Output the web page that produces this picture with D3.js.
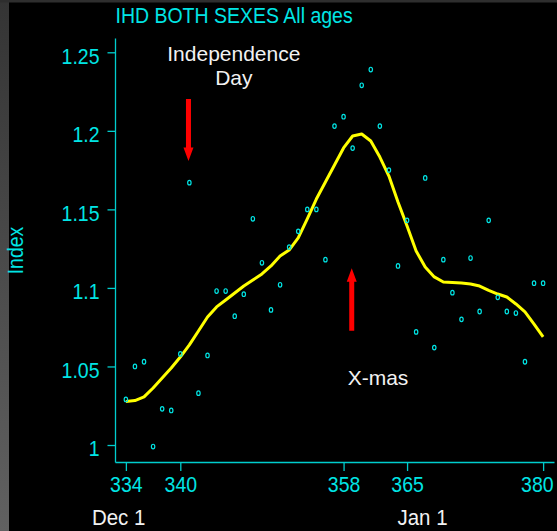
<!DOCTYPE html>
<html>
<head>
<meta charset="utf-8">
<script src="https://cdn.jsdelivr.net/npm/d3@7/dist/d3.min.js"></script>
<style>
  html, body { margin: 0; padding: 0; background: #000; overflow: hidden; }
  svg { display: block; }
</style>
</head>
<body>
<svg id="chart" width="557" height="531"></svg>
<script>
// Day of year (Dec 1 = 335, Jan 1 = 366 continued past 365)
const days = [334, 335, 336, 337, 338, 339, 340, 341, 342, 343, 344, 345, 346, 347, 348, 349,
              350, 351, 352, 353, 354, 355, 356, 357, 358, 359, 360, 361, 362, 363, 364, 365,
              366, 367, 368, 369, 370, 371, 372, 373, 374, 375, 376, 377, 378, 379, 380];

// Daily IHD mortality index, both sexes, all ages
const observed = [1.029, 1.050, 1.053, 0.999, 1.023, 1.022, 1.058, 1.167, 1.033, 1.057, 1.098, 1.098,
                  1.082, 1.096, 1.144, 1.116, 1.086, 1.102, 1.126, 1.136, 1.150, 1.150, 1.118, 1.203,
                  1.209, 1.189, 1.229, 1.239, 1.203, 1.175, 1.114, 1.143, 1.072, 1.170, 1.062, 1.118,
                  1.097, 1.080, 1.119, 1.085, 1.143, 1.094, 1.085, 1.084, 1.053, 1.103, 1.103];

// Smoothed trend through the daily index
const smoothed = [1.0277, 1.0283, 1.0306, 1.0363, 1.0427, 1.0490, 1.0560, 1.0637, 1.0726, 1.0815,
                  1.0879, 1.0923, 1.0968, 1.1012, 1.1050, 1.1089, 1.1140, 1.1203, 1.1241, 1.1318,
                  1.1439, 1.1566, 1.1674, 1.1783, 1.1891, 1.1967, 1.1980, 1.1935, 1.1833, 1.1712,
                  1.1547, 1.1394, 1.1235, 1.1133, 1.1070, 1.1038, 1.1035, 1.1031, 1.1025, 1.1012,
                  1.0984, 1.0961, 1.0942, 1.0898, 1.0847, 1.0770, 1.0688];

const xTicks = [334, 340, 358, 365, 380];
const yTicks = [1, 1.05, 1.1, 1.15, 1.2, 1.25];
const yTickLabels = ["1", "1.05", "1.1", "1.15", "1.2", "1.25"];

const dateLabels = ["Dec 1", "Jan 1"];
const dateLabelDays = [333.2, 366.7];

// Holiday annotations: arrow (day, from, to) and caption lines
const arrowDays = [340.9, 358.9];
const arrowFrom = [1.2203, 1.0728];
const arrowTo = [1.1808, 1.1125];
const captionLines = [["Independence", "Day"], ["X-mas"]];
const captionDays = [345.9, 361.8];
const captionTop = [1.2445, 1.0385];

const titleText = "IHD BOTH SEXES All ages";
const yTitle = "Index";

const W = 557, H = 531;
const CYAN = "#00E5E5", AXIS = "#00CDCD", WHITE = "#F2F2F2";
const FONT = "'Liberation Sans', Arial, Helvetica, sans-serif";
const STRETCH = 1.12;

const svg = d3.select("#chart");

// Window frame edge on the left
const defs = svg.append("defs");
const grad = defs.append("linearGradient").attr("id", "edge").attr("x1", 0).attr("y1", 0).attr("x2", 0).attr("y2", 1);
grad.append("stop").attr("offset", 0).attr("stop-color", "#343434");
grad.append("stop").attr("offset", 1).attr("stop-color", "#616161");
svg.append("rect").attr("x", 0).attr("y", 0).attr("width", W).attr("height", H).attr("fill", "#000");
svg.append("rect").attr("x", 0).attr("y", 0).attr("width", 9).attr("height", H).attr("fill", "url(#edge)");
svg.append("rect").attr("x", 0).attr("y", 0).attr("width", W).attr("height", 2.5).attr("fill", "#2e2e2e");

const x = d3.scaleLinear().domain([332.8, 381.2]).range([115, 554]);
const y = d3.scaleLinear().domain([0.98918, 1.2591]).range([462, 38]);

// Place a text node at (px, py) with glyphs stretched vertically about the baseline
function placeText(sel, px, py, sy, rot) {
  sel.attr("x", 0).attr("y", 0).attr("dy", null)
     .attr("transform", `translate(${px},${py})${rot ? ` rotate(${rot})` : ""} scale(1,${sy})`);
}

// Y axis
const yAxis = svg.append("g")
  .attr("transform", `translate(${x.range()[0]},0)`)
  .call(d3.axisLeft(y).tickValues(yTicks).tickSize(7.5).tickSizeOuter(0)
        .tickFormat((d, i) => yTickLabels[i]));
yAxis.select(".domain").attr("stroke", AXIS).attr("stroke-width", 1.3);
yAxis.selectAll(".tick line").attr("stroke", AXIS).attr("stroke-width", 1.3);
yAxis.selectAll(".tick text").each(function () {
  const t = d3.select(this);
  t.attr("fill", CYAN).attr("font-size", 19.5).attr("font-family", FONT).attr("text-anchor", "end");
  placeText(t, -15.5, 10.8, STRETCH);
});

// X axis; the last label is kept inside the right edge
const xAxis = svg.append("g")
  .attr("transform", `translate(0,${y.range()[0]})`)
  .call(d3.axisBottom(x).tickValues(xTicks).tickSize(9).tickSizeOuter(0).tickFormat(d3.format("d")));
xAxis.select(".domain").attr("stroke", AXIS).attr("stroke-width", 1.3);
xAxis.selectAll(".tick line").attr("stroke", AXIS).attr("stroke-width", 1.3);
xAxis.selectAll(".tick text").each(function (d, i, nodes) {
  const t = d3.select(this);
  const last = i === nodes.length - 1;
  t.attr("fill", CYAN).attr("font-size", 19.5).attr("font-family", FONT)
   .attr("text-anchor", last ? "end" : "middle");
  placeText(t, last ? 10 : 0, 30, STRETCH);
});

// Title and axis title
placeText(svg.append("text").text(titleText)
  .attr("fill", CYAN).attr("font-size", 19.5).attr("font-family", FONT), 115.5, 22.5, STRETCH);
placeText(svg.append("text").text(yTitle)
  .attr("fill", CYAN).attr("font-size", 19.5).attr("font-family", FONT).attr("text-anchor", "middle"),
  23, 250.5, STRETCH, -90);

// Month markers under the axis
dateLabels.forEach((lab, i) => {
  placeText(svg.append("text").text(lab)
    .attr("fill", WHITE).attr("font-size", 20.5).attr("font-family", FONT).attr("text-anchor", "middle"),
    x(dateLabelDays[i]), 525, 1.05);
});

// Smoothed trend
const series = days.map((d, i) => ({ day: d, obs: observed[i], fit: smoothed[i] }));
svg.append("path")
  .datum(series)
  .attr("fill", "none")
  .attr("stroke", "#FFFF00")
  .attr("stroke-width", 3)
  .attr("stroke-linejoin", "round")
  .attr("d", d3.line().x(d => x(d.day)).y(d => y(d.fit)));

// Daily points
svg.append("g").selectAll("ellipse")
  .data(series)
  .join("ellipse")
  .attr("cx", d => x(d.day))
  .attr("cy", d => y(d.obs))
  .attr("rx", 1.7)
  .attr("ry", 2.3)
  .attr("fill", "none")
  .attr("stroke", CYAN)
  .attr("stroke-width", 1.2);

// Holiday arrows
arrowDays.forEach((d, i) => {
  const ax = x(d), y0 = y(arrowFrom[i]), y1 = y(arrowTo[i]);
  const dir = y1 > y0 ? 1 : -1;
  const headLen = 13.5, headHalf = 5, shaftHalf = 2.5;
  const yb = y1 - dir * headLen;
  const p = d3.path();
  p.moveTo(ax - shaftHalf, y0);
  p.lineTo(ax + shaftHalf, y0);
  p.lineTo(ax + shaftHalf, yb);
  p.lineTo(ax + headHalf, yb);
  p.lineTo(ax, y1);
  p.lineTo(ax - headHalf, yb);
  p.lineTo(ax - shaftHalf, yb);
  p.closePath();
  svg.append("path").attr("d", p.toString()).attr("fill", "#FF0000");
});

// Holiday captions
captionLines.forEach((lines, i) => {
  const top = y(captionTop[i]);
  lines.forEach((ln, j) => {
    placeText(svg.append("text").text(ln)
      .attr("fill", WHITE).attr("font-size", 21).attr("font-family", FONT).attr("text-anchor", "middle"),
      x(captionDays[i]), top + j * 23.7, 1.0);
  });
});
</script>
</body>
</html>
